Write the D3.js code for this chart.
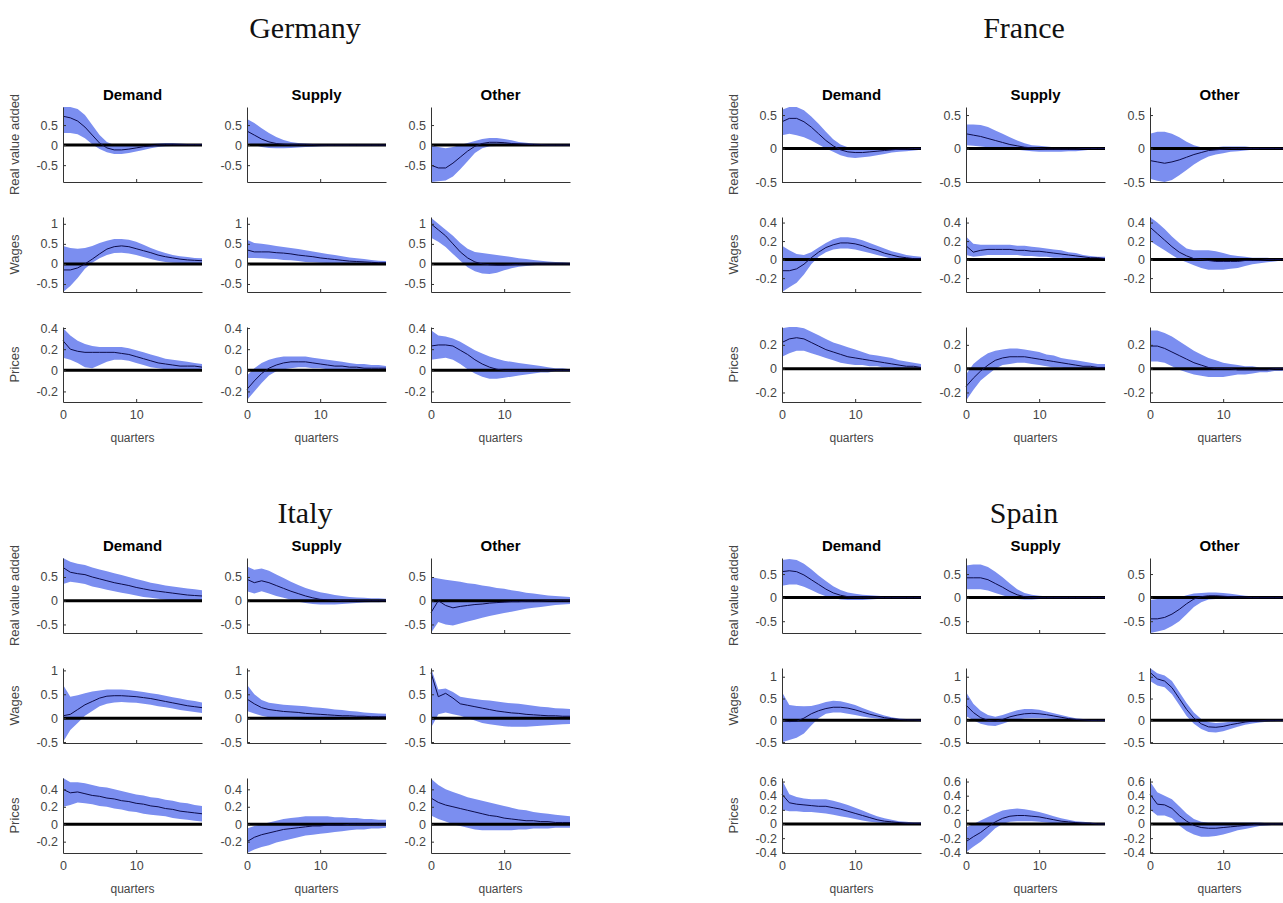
<!DOCTYPE html>
<html>
<head>
<meta charset="utf-8">
<script src="https://cdn.jsdelivr.net/npm/d3@7"></script>
<style>
  body { margin: 0; background: #fff; }
  svg { display: block; }
  .tick text { font-family: "Liberation Sans", Arial, Helvetica, sans-serif; font-size: 12.5px; fill: #454545; }
  .domain, .tick line { stroke: #333; }
</style>
</head>
<body>
<div id="chart"></div>
<script>
// Layout of the page
const W = 1283, H = 903;
const panelW = 139, panelH = 75;
const colStep = 184, rowStep = 110;

// Categories
const countries = ["Germany", "France", "Italy", "Spain"];
const shocks = ["Demand", "Supply", "Other"];
const variables = ["Real value added", "Wages", "Prices"];
const quarters = [0, 1, 2, 3, 4, 5, 6, 7, 8, 9, 10, 11, 12, 13, 14, 15, 16, 17, 18, 19];
const xTicks = [0, 10];

// Each country: 9 series, row = variable, col = shock
// order: RVA-Demand, RVA-Supply, RVA-Other, Wages-D, Wages-S, Wages-O, Prices-D, Prices-S, Prices-O

// ---------- Germany ----------
const germanyMid = [
  [0.72, 0.68, 0.6, 0.45, 0.25, 0.05, -0.07, -0.12, -0.12, -0.1, -0.07, -0.04, -0.02, 0, 0.01, 0.01, 0.01, 0.01, 0.01, 0.01],
  [0.35, 0.25, 0.15, 0.08, 0.04, 0.02, 0.01, 0.01, 0.01, 0.01, 0, 0, 0, 0, 0, 0, 0, 0, 0, 0],
  [-0.5, -0.57, -0.57, -0.45, -0.3, -0.15, -0.03, 0.04, 0.07, 0.07, 0.06, 0.04, 0.03, 0.02, 0.01, 0.01, 0, 0, 0, 0],
  [-0.15, -0.15, -0.1, 0, 0.12, 0.25, 0.37, 0.43, 0.45, 0.43, 0.38, 0.33, 0.28, 0.22, 0.18, 0.15, 0.12, 0.1, 0.09, 0.08],
  [0.35, 0.3, 0.3, 0.3, 0.28, 0.27, 0.25, 0.22, 0.2, 0.18, 0.15, 0.13, 0.11, 0.09, 0.07, 0.06, 0.05, 0.04, 0.03, 0.03],
  [1.0, 0.85, 0.7, 0.5, 0.3, 0.15, 0.05, 0, -0.02, -0.03, -0.03, -0.02, -0.01, 0, 0, 0, 0, 0, 0, 0],
  [0.28, 0.2, 0.18, 0.17, 0.17, 0.17, 0.17, 0.17, 0.16, 0.15, 0.13, 0.11, 0.09, 0.07, 0.06, 0.05, 0.04, 0.04, 0.04, 0.03],
  [-0.18, -0.1, -0.03, 0.02, 0.05, 0.07, 0.08, 0.08, 0.08, 0.07, 0.06, 0.05, 0.04, 0.04, 0.03, 0.03, 0.02, 0.02, 0.02, 0.02],
  [0.23, 0.24, 0.24, 0.23, 0.19, 0.15, 0.1, 0.06, 0.03, 0.01, 0, 0, 0, 0, 0, 0, 0, 0, 0, 0]
];
const germanyLo = [
  [0.3, 0.3, 0.27, 0.17, 0.02, -0.1, -0.18, -0.22, -0.22, -0.2, -0.16, -0.12, -0.08, -0.05, -0.03, -0.02, -0.02, -0.01, -0.01, -0.01],
  [0.05, 0, -0.05, -0.07, -0.08, -0.08, -0.07, -0.06, -0.05, -0.04, -0.03, -0.02, -0.02, -0.01, -0.01, -0.01, 0, 0, 0, 0],
  [-0.92, -0.9, -0.88, -0.78, -0.6, -0.4, -0.2, -0.08, -0.03, -0.02, -0.02, -0.02, -0.02, -0.02, -0.01, -0.01, -0.01, -0.01, -0.01, -0.01],
  [-0.7, -0.55, -0.35, -0.12, 0.03, 0.14, 0.22, 0.27, 0.28, 0.26, 0.22, 0.17, 0.12, 0.08, 0.05, 0.03, 0.02, 0.02, 0.02, 0.02],
  [0.15, 0.15, 0.14, 0.13, 0.12, 0.1, 0.09, 0.07, 0.05, 0.04, 0.03, 0.02, 0.01, 0, 0, 0, 0, 0, 0, 0],
  [0.65, 0.55, 0.42, 0.25, 0.08, -0.08, -0.18, -0.24, -0.25, -0.22, -0.16, -0.11, -0.07, -0.05, -0.03, -0.02, -0.02, -0.01, -0.01, -0.01],
  [0.12, 0.1, 0.07, 0.03, 0.02, 0.05, 0.08, 0.1, 0.1, 0.09, 0.07, 0.05, 0.03, 0.02, 0.01, 0, 0, 0, 0, 0],
  [-0.28, -0.2, -0.12, -0.05, -0.01, 0.01, 0.02, 0.03, 0.03, 0.02, 0.02, 0.01, 0.01, 0, 0, 0, 0, 0, 0, 0],
  [0.1, 0.11, 0.12, 0.1, 0.06, 0.01, -0.03, -0.06, -0.08, -0.08, -0.07, -0.06, -0.05, -0.04, -0.03, -0.02, -0.02, -0.01, -0.01, -0.01]
];
const germanyHi = [
  [0.95, 0.95, 0.9, 0.75, 0.5, 0.25, 0.08, 0, -0.02, -0.01, 0.01, 0.02, 0.03, 0.04, 0.05, 0.05, 0.04, 0.03, 0.02, 0.02],
  [0.65, 0.55, 0.42, 0.3, 0.2, 0.13, 0.08, 0.05, 0.04, 0.03, 0.03, 0.02, 0.02, 0.02, 0.01, 0.01, 0.01, 0.01, 0.01, 0.01],
  [0, -0.05, -0.08, -0.05, 0, 0.05, 0.1, 0.15, 0.18, 0.18, 0.15, 0.12, 0.08, 0.06, 0.04, 0.03, 0.02, 0.02, 0.01, 0.01],
  [0.45, 0.4, 0.38, 0.4, 0.45, 0.52, 0.58, 0.62, 0.62, 0.6, 0.55, 0.48, 0.4, 0.33, 0.27, 0.22, 0.19, 0.17, 0.15, 0.14],
  [0.6, 0.52, 0.5, 0.48, 0.45, 0.42, 0.4, 0.37, 0.34, 0.31, 0.28, 0.25, 0.22, 0.19, 0.16, 0.14, 0.12, 0.1, 0.08, 0.07],
  [1.15, 1.0, 0.85, 0.7, 0.52, 0.38, 0.3, 0.27, 0.25, 0.22, 0.2, 0.17, 0.14, 0.12, 0.1, 0.08, 0.06, 0.05, 0.04, 0.03],
  [0.4, 0.33, 0.28, 0.25, 0.23, 0.22, 0.22, 0.22, 0.22, 0.21, 0.19, 0.17, 0.15, 0.13, 0.11, 0.1, 0.09, 0.08, 0.07, 0.06],
  [-0.05, 0.02, 0.07, 0.1, 0.12, 0.13, 0.13, 0.13, 0.13, 0.12, 0.11, 0.1, 0.09, 0.08, 0.07, 0.06, 0.06, 0.05, 0.05, 0.04],
  [0.38, 0.33, 0.32, 0.3, 0.27, 0.23, 0.19, 0.16, 0.13, 0.11, 0.09, 0.08, 0.07, 0.06, 0.05, 0.04, 0.03, 0.02, 0.02, 0.01]
];
const germanyYLim = [[-0.92, 0.95], [-0.7, 1.17], [-0.3, 0.41]];
const germanyTicks = [[-0.5, 0, 0.5], [-0.5, 0, 0.5, 1], [-0.2, 0, 0.2, 0.4]];

// ---------- France ----------
const franceMid = [
  [0.4, 0.45, 0.45, 0.4, 0.32, 0.22, 0.12, 0.04, -0.02, -0.05, -0.06, -0.06, -0.05, -0.04, -0.03, -0.02, -0.01, -0.01, 0, 0],
  [0.22, 0.2, 0.18, 0.15, 0.12, 0.09, 0.06, 0.04, 0.02, 0.01, 0, -0.01, -0.01, -0.01, -0.01, -0.01, 0, 0, 0, 0],
  [-0.18, -0.2, -0.22, -0.2, -0.17, -0.13, -0.09, -0.06, -0.03, -0.02, -0.01, 0, 0, 0, 0, 0, 0, 0, 0, 0],
  [-0.12, -0.12, -0.1, -0.05, 0.02, 0.08, 0.13, 0.16, 0.18, 0.18, 0.17, 0.15, 0.12, 0.1, 0.07, 0.05, 0.03, 0.02, 0.01, 0.01],
  [0.15, 0.08, 0.1, 0.11, 0.11, 0.11, 0.11, 0.1, 0.1, 0.09, 0.09, 0.08, 0.07, 0.06, 0.05, 0.04, 0.03, 0.02, 0.02, 0.01],
  [0.35, 0.28, 0.21, 0.14, 0.08, 0.04, 0.01, 0, -0.01, -0.02, -0.02, -0.02, -0.02, -0.01, -0.01, -0.01, 0, 0, 0, 0],
  [0.22, 0.25, 0.26, 0.25, 0.22, 0.19, 0.16, 0.14, 0.12, 0.1, 0.09, 0.08, 0.07, 0.06, 0.05, 0.04, 0.03, 0.02, 0.02, 0.01],
  [-0.15, -0.08, -0.02, 0.03, 0.07, 0.09, 0.1, 0.1, 0.1, 0.09, 0.08, 0.07, 0.06, 0.05, 0.04, 0.03, 0.02, 0.02, 0.01, 0.01],
  [0.19, 0.19, 0.17, 0.14, 0.11, 0.08, 0.05, 0.03, 0.01, 0, 0, 0, -0.01, -0.01, -0.01, -0.01, -0.01, 0, 0, 0]
];
const franceLo = [
  [0.2, 0.22, 0.2, 0.17, 0.12, 0.06, 0, -0.05, -0.1, -0.13, -0.14, -0.13, -0.12, -0.1, -0.08, -0.06, -0.05, -0.04, -0.03, -0.02],
  [0.05, 0.04, 0.03, 0.02, 0.01, 0, -0.01, -0.02, -0.03, -0.04, -0.05, -0.05, -0.05, -0.05, -0.04, -0.04, -0.03, -0.02, -0.02, -0.01],
  [-0.45, -0.48, -0.5, -0.47, -0.4, -0.32, -0.24, -0.17, -0.12, -0.09, -0.07, -0.05, -0.04, -0.03, -0.02, -0.02, -0.01, -0.01, -0.01, -0.01],
  [-0.35, -0.3, -0.25, -0.16, -0.05, 0.03, 0.08, 0.11, 0.12, 0.12, 0.11, 0.09, 0.07, 0.05, 0.03, 0.01, 0, 0, 0, 0],
  [0.05, 0.03, 0.04, 0.05, 0.05, 0.05, 0.05, 0.05, 0.04, 0.04, 0.03, 0.03, 0.02, 0.02, 0.01, 0.01, 0, 0, 0, 0],
  [0.2, 0.15, 0.1, 0.05, 0, -0.03, -0.06, -0.09, -0.11, -0.11, -0.11, -0.1, -0.09, -0.07, -0.05, -0.04, -0.03, -0.02, -0.01, -0.01],
  [0.1, 0.13, 0.15, 0.15, 0.13, 0.11, 0.09, 0.07, 0.05, 0.04, 0.03, 0.03, 0.02, 0.02, 0.01, 0.01, 0, 0, 0, 0],
  [-0.27, -0.18, -0.1, -0.05, 0, 0.03, 0.04, 0.05, 0.05, 0.04, 0.03, 0.02, 0.01, 0.01, 0, 0, 0, 0, 0, 0],
  [0.06, 0.06, 0.05, 0.02, -0.01, -0.03, -0.05, -0.06, -0.07, -0.07, -0.07, -0.06, -0.05, -0.05, -0.04, -0.03, -0.03, -0.02, -0.02, -0.01]
];
const franceHi = [
  [0.58, 0.62, 0.62, 0.57, 0.48, 0.37, 0.25, 0.14, 0.06, 0.02, 0, 0, 0, 0.01, 0.01, 0.01, 0.01, 0.01, 0.01, 0.01],
  [0.36, 0.36, 0.35, 0.32, 0.27, 0.22, 0.17, 0.12, 0.08, 0.05, 0.04, 0.03, 0.02, 0.02, 0.02, 0.01, 0.01, 0.01, 0.01, 0.01],
  [0.22, 0.25, 0.25, 0.22, 0.17, 0.1, 0.05, 0.02, 0.01, 0.02, 0.03, 0.03, 0.03, 0.03, 0.02, 0.02, 0.02, 0.01, 0.01, 0.01],
  [0.15, 0.1, 0.06, 0.05, 0.08, 0.13, 0.18, 0.22, 0.24, 0.24, 0.23, 0.21, 0.18, 0.15, 0.12, 0.09, 0.07, 0.05, 0.04, 0.03],
  [0.25, 0.17, 0.16, 0.16, 0.16, 0.16, 0.16, 0.15, 0.15, 0.14, 0.13, 0.12, 0.11, 0.1, 0.08, 0.07, 0.05, 0.04, 0.03, 0.03],
  [0.46, 0.4, 0.33, 0.25, 0.18, 0.12, 0.1, 0.1, 0.1, 0.09, 0.07, 0.05, 0.04, 0.03, 0.02, 0.02, 0.02, 0.01, 0.01, 0.01],
  [0.34, 0.35, 0.35, 0.34, 0.31, 0.28, 0.25, 0.22, 0.2, 0.18, 0.16, 0.14, 0.12, 0.11, 0.1, 0.09, 0.07, 0.06, 0.05, 0.04],
  [-0.05, 0.04, 0.09, 0.13, 0.15, 0.16, 0.17, 0.17, 0.16, 0.15, 0.14, 0.12, 0.11, 0.09, 0.08, 0.07, 0.06, 0.05, 0.04, 0.04],
  [0.32, 0.32, 0.3, 0.27, 0.23, 0.19, 0.15, 0.12, 0.09, 0.07, 0.05, 0.04, 0.03, 0.02, 0.02, 0.01, 0.01, 0.01, 0.01, 0.01]
];
const franceYLim = [[-0.5, 0.62], [-0.35, 0.46], [-0.28, 0.35]];
const franceTicks = [[-0.5, 0, 0.5], [-0.2, 0, 0.2, 0.4], [-0.2, 0, 0.2]];

// ---------- Italy ----------
const italyMid = [
  [0.7, 0.6, 0.57, 0.55, 0.5, 0.46, 0.42, 0.38, 0.35, 0.32, 0.28, 0.25, 0.22, 0.2, 0.18, 0.16, 0.14, 0.12, 0.11, 0.1],
  [0.45, 0.38, 0.42, 0.38, 0.32, 0.26, 0.2, 0.15, 0.1, 0.06, 0.03, 0.02, 0.01, 0, 0, 0, 0, 0, 0, 0],
  [-0.25, 0, -0.1, -0.15, -0.12, -0.1, -0.08, -0.07, -0.05, -0.04, -0.03, -0.02, -0.02, -0.01, -0.01, -0.01, 0, 0, 0, 0],
  [0.05, 0.08, 0.18, 0.28, 0.35, 0.42, 0.46, 0.47, 0.47, 0.46, 0.45, 0.43, 0.41, 0.38, 0.35, 0.32, 0.29, 0.26, 0.24, 0.22],
  [0.4, 0.3, 0.22, 0.18, 0.16, 0.14, 0.13, 0.12, 0.1, 0.09, 0.08, 0.07, 0.06, 0.05, 0.05, 0.04, 0.04, 0.03, 0.03, 0.03],
  [0.95, 0.45, 0.52, 0.42, 0.3, 0.27, 0.24, 0.21, 0.18, 0.15, 0.13, 0.11, 0.1, 0.08, 0.07, 0.06, 0.05, 0.05, 0.04, 0.04],
  [0.4, 0.36, 0.37, 0.35, 0.33, 0.32, 0.3, 0.29, 0.27, 0.26, 0.24, 0.23, 0.21, 0.2, 0.18, 0.17, 0.15, 0.14, 0.13, 0.12],
  [-0.2, -0.15, -0.12, -0.1, -0.08, -0.06, -0.05, -0.04, -0.03, -0.02, -0.02, -0.01, -0.01, -0.01, 0, 0, 0, 0, 0, 0],
  [0.3, 0.25, 0.22, 0.2, 0.18, 0.16, 0.14, 0.12, 0.1, 0.09, 0.07, 0.06, 0.05, 0.04, 0.04, 0.03, 0.03, 0.02, 0.02, 0.02]
];
const italyLo = [
  [0.35, 0.4, 0.38, 0.35, 0.3, 0.27, 0.23, 0.2, 0.17, 0.14, 0.11, 0.08, 0.06, 0.04, 0.02, 0.01, 0, 0, 0, 0],
  [0.2, 0.15, 0.2, 0.15, 0.1, 0.06, 0.02, -0.02, -0.05, -0.07, -0.08, -0.08, -0.08, -0.07, -0.06, -0.05, -0.04, -0.03, -0.03, -0.02],
  [-0.68, -0.45, -0.5, -0.52, -0.48, -0.44, -0.4, -0.36, -0.32, -0.29, -0.26, -0.23, -0.2, -0.17, -0.15, -0.13, -0.11, -0.09, -0.08, -0.07],
  [-0.5, -0.25, -0.1, 0.05, 0.15, 0.25, 0.3, 0.33, 0.34, 0.33, 0.32, 0.3, 0.28, 0.25, 0.23, 0.2, 0.17, 0.15, 0.13, 0.11],
  [0.15, 0.1, 0.05, 0.02, 0, -0.01, -0.02, -0.03, -0.04, -0.04, -0.04, -0.04, -0.04, -0.03, -0.03, -0.03, -0.02, -0.02, -0.02, -0.02],
  [-0.2, 0.08, 0.12, 0.08, 0.05, 0, -0.05, -0.1, -0.13, -0.15, -0.17, -0.18, -0.18, -0.18, -0.17, -0.16, -0.15, -0.14, -0.13, -0.12],
  [0.2, 0.22, 0.25, 0.24, 0.23, 0.21, 0.2, 0.18, 0.17, 0.15, 0.14, 0.12, 0.11, 0.1, 0.09, 0.07, 0.06, 0.05, 0.04, 0.03],
  [-0.33, -0.29, -0.26, -0.24, -0.21, -0.19, -0.17, -0.15, -0.13, -0.12, -0.11, -0.1, -0.09, -0.08, -0.07, -0.06, -0.06, -0.05, -0.05, -0.04],
  [0.1, 0.06, 0.03, 0, -0.02, -0.04, -0.06, -0.07, -0.07, -0.07, -0.07, -0.07, -0.06, -0.06, -0.05, -0.05, -0.05, -0.04, -0.04, -0.04]
];
const italyHi = [
  [0.9, 0.82, 0.78, 0.75, 0.7, 0.66, 0.62, 0.58, 0.54, 0.5, 0.46, 0.42, 0.38, 0.35, 0.32, 0.3, 0.28, 0.26, 0.24, 0.22],
  [0.72, 0.65, 0.68, 0.63, 0.55, 0.48, 0.4, 0.33, 0.27, 0.22, 0.18, 0.15, 0.12, 0.1, 0.08, 0.07, 0.06, 0.05, 0.05, 0.04],
  [0.5, 0.47, 0.44, 0.42, 0.4, 0.37, 0.35, 0.32, 0.3, 0.27, 0.25, 0.22, 0.2, 0.17, 0.15, 0.13, 0.11, 0.1, 0.09, 0.08],
  [0.7, 0.45, 0.48, 0.52, 0.56, 0.58, 0.6, 0.6, 0.6, 0.59, 0.57, 0.55, 0.52, 0.5, 0.47, 0.44, 0.41, 0.38, 0.36, 0.33],
  [0.7, 0.5, 0.38, 0.32, 0.3, 0.28, 0.27, 0.26, 0.25, 0.23, 0.22, 0.2, 0.18, 0.17, 0.15, 0.14, 0.12, 0.11, 0.1, 0.09],
  [1.05, 0.6, 0.62, 0.55, 0.45, 0.42, 0.4, 0.38, 0.37, 0.35, 0.33, 0.31, 0.3, 0.28, 0.26, 0.24, 0.23, 0.21, 0.2, 0.19],
  [0.53, 0.48, 0.48, 0.47, 0.45, 0.43, 0.42, 0.4, 0.38, 0.36, 0.34, 0.33, 0.31, 0.3, 0.28, 0.27, 0.25, 0.24, 0.22, 0.21],
  [-0.05, -0.02, 0, 0.02, 0.04, 0.06, 0.07, 0.08, 0.09, 0.09, 0.09, 0.09, 0.08, 0.08, 0.07, 0.07, 0.06, 0.06, 0.05, 0.05],
  [0.52, 0.45, 0.4, 0.37, 0.34, 0.31, 0.29, 0.27, 0.25, 0.23, 0.21, 0.19, 0.17, 0.16, 0.14, 0.13, 0.12, 0.11, 0.1, 0.09]
];
const italyYLim = [[-0.68, 0.9], [-0.52, 1.05], [-0.33, 0.53]];
const italyTicks = [[-0.5, 0, 0.5], [-0.5, 0, 0.5, 1], [-0.2, 0, 0.2, 0.4]];

// ---------- Spain ----------
const spainMid = [
  [0.55, 0.57, 0.55, 0.48, 0.38, 0.28, 0.18, 0.1, 0.05, 0.02, 0.01, 0.01, 0.01, 0.01, 0, 0, 0, 0, 0, 0],
  [0.42, 0.42, 0.42, 0.38, 0.3, 0.22, 0.13, 0.06, 0.02, 0, 0, 0, 0, 0, 0, 0, 0, 0, 0, 0],
  [-0.45, -0.45, -0.42, -0.35, -0.25, -0.13, -0.03, 0.02, 0.04, 0.04, 0.03, 0.02, 0.01, 0.01, 0, 0, 0, 0, 0, 0],
  [0, -0.03, -0.02, 0.05, 0.15, 0.22, 0.27, 0.3, 0.3, 0.28, 0.24, 0.19, 0.14, 0.1, 0.06, 0.04, 0.02, 0.01, 0.01, 0],
  [0.35, 0.18, 0.06, 0, -0.02, 0.02, 0.08, 0.12, 0.15, 0.16, 0.15, 0.13, 0.1, 0.07, 0.04, 0.02, 0.01, 0, 0, 0],
  [1.1, 0.95, 0.9, 0.75, 0.5, 0.25, 0.05, -0.08, -0.15, -0.16, -0.14, -0.1, -0.07, -0.04, -0.02, -0.01, 0, 0, 0, 0],
  [0.42, 0.3, 0.28, 0.27, 0.26, 0.25, 0.25, 0.23, 0.21, 0.18, 0.15, 0.12, 0.09, 0.06, 0.04, 0.03, 0.02, 0.01, 0.01, 0.01],
  [-0.25, -0.18, -0.12, -0.04, 0.03, 0.08, 0.11, 0.12, 0.12, 0.11, 0.1, 0.08, 0.06, 0.04, 0.03, 0.02, 0.01, 0.01, 0, 0],
  [0.42, 0.28, 0.27, 0.22, 0.12, 0.04, -0.02, -0.05, -0.06, -0.06, -0.05, -0.04, -0.03, -0.02, -0.01, 0, 0, 0, 0, 0]
];
const spainLo = [
  [0.25, 0.28, 0.28, 0.23, 0.16, 0.09, 0.03, -0.01, -0.04, -0.05, -0.05, -0.05, -0.04, -0.03, -0.02, -0.02, -0.01, -0.01, 0, 0],
  [0.18, 0.18, 0.18, 0.15, 0.1, 0.05, 0, -0.03, -0.04, -0.04, -0.03, -0.03, -0.02, -0.02, -0.01, -0.01, -0.01, 0, 0, 0],
  [-0.75, -0.72, -0.68, -0.6, -0.5, -0.35, -0.2, -0.1, -0.04, -0.03, -0.03, -0.03, -0.03, -0.02, -0.02, -0.02, -0.02, -0.01, -0.01, -0.01],
  [-0.5, -0.45, -0.4, -0.3, -0.12, 0.05, 0.15, 0.18, 0.18, 0.15, 0.12, 0.09, 0.06, 0.04, 0.02, 0.01, 0, 0, 0, 0],
  [0.1, 0, -0.08, -0.12, -0.13, -0.08, -0.02, 0.02, 0.04, 0.05, 0.05, 0.04, 0.03, 0.02, 0.01, 0, 0, 0, 0, 0],
  [0.9, 0.8, 0.76, 0.6, 0.35, 0.1, -0.08, -0.2, -0.27, -0.28, -0.25, -0.2, -0.15, -0.1, -0.07, -0.05, -0.03, -0.02, -0.01, -0.01],
  [0.2, 0.18, 0.18, 0.17, 0.17, 0.16, 0.15, 0.13, 0.11, 0.09, 0.07, 0.05, 0.03, 0.02, 0.01, 0, 0, 0, 0, 0],
  [-0.4, -0.32, -0.25, -0.16, -0.06, 0, 0.03, 0.04, 0.04, 0.04, 0.03, 0.02, 0.01, 0, 0, 0, 0, 0, 0, 0],
  [0.2, 0.12, 0.12, 0.08, -0.02, -0.1, -0.15, -0.18, -0.18, -0.17, -0.15, -0.12, -0.09, -0.07, -0.05, -0.03, -0.02, -0.01, -0.01, -0.01]
];
const spainHi = [
  [0.8, 0.82, 0.8, 0.72, 0.6, 0.47, 0.35, 0.24, 0.16, 0.11, 0.08, 0.06, 0.05, 0.04, 0.03, 0.02, 0.02, 0.01, 0.01, 0.01],
  [0.68, 0.7, 0.7, 0.65, 0.55, 0.43, 0.3, 0.18, 0.1, 0.06, 0.04, 0.03, 0.02, 0.02, 0.01, 0.01, 0.01, 0.01, 0.01, 0.01],
  [-0.05, -0.03, -0.02, -0.01, 0, 0.05, 0.09, 0.1, 0.11, 0.11, 0.1, 0.08, 0.06, 0.04, 0.03, 0.02, 0.02, 0.01, 0.01, 0.01],
  [0.65, 0.35, 0.33, 0.32, 0.33, 0.37, 0.42, 0.45, 0.44, 0.4, 0.35, 0.28, 0.22, 0.16, 0.11, 0.07, 0.04, 0.03, 0.02, 0.02],
  [0.65, 0.38, 0.22, 0.12, 0.08, 0.12, 0.18, 0.23, 0.26, 0.26, 0.24, 0.2, 0.16, 0.12, 0.08, 0.05, 0.03, 0.02, 0.01, 0.01],
  [1.2, 1.08, 1.03, 0.9, 0.65, 0.4, 0.18, 0.03, -0.04, -0.06, -0.05, -0.03, -0.01, 0, 0.01, 0.01, 0.01, 0.01, 0.01, 0.01],
  [0.62, 0.42, 0.38, 0.36, 0.35, 0.35, 0.35, 0.33, 0.3, 0.27, 0.23, 0.19, 0.15, 0.11, 0.08, 0.06, 0.04, 0.03, 0.02, 0.02],
  [-0.05, 0, 0.05, 0.1, 0.15, 0.19, 0.21, 0.22, 0.21, 0.19, 0.17, 0.14, 0.11, 0.08, 0.06, 0.04, 0.03, 0.02, 0.01, 0.01],
  [0.6, 0.45, 0.4, 0.35, 0.25, 0.15, 0.07, 0.03, 0.02, 0.02, 0.02, 0.02, 0.02, 0.02, 0.02, 0.02, 0.01, 0.01, 0.01, 0.01]
];
const spainYLim = [[-0.75, 0.84], [-0.52, 1.2], [-0.41, 0.65]];
const spainTicks = [[-0.5, 0, 0.5], [-0.5, 0, 0.5, 1], [-0.4, -0.2, 0, 0.2, 0.4, 0.6]];

const countryData = [
  {mid: germanyMid, lo: germanyLo, hi: germanyHi, ylim: germanyYLim, ticks: germanyTicks},
  {mid: franceMid, lo: franceLo, hi: franceHi, ylim: franceYLim, ticks: franceTicks},
  {mid: italyMid, lo: italyLo, hi: italyHi, ylim: italyYLim, ticks: italyTicks},
  {mid: spainMid, lo: spainLo, hi: spainHi, ylim: spainYLim, ticks: spainTicks}
];

// block placement (left/right, top/bottom) and where the country title sits
const blockX = [0, 719, 0, 719];
const blockY = [0, 0, 451, 451];
const titleY = [27, 27, 512, 512];

const svg = d3.select("#chart").append("svg")
  .attr("width", W)
  .attr("height", H);

const sans = "'Liberation Sans', Arial, Helvetica, sans-serif";

const x = d3.scaleLinear().domain([0, 19]).range([0, panelW]);

countries.forEach((country, ci) => {
  const cd = countryData[ci];
  const bx = blockX[ci], by = blockY[ci];

  // country title
  svg.append("text")
    .attr("x", bx + 305)
    .attr("y", titleY[ci])
    .attr("dy", "0.35em")
    .attr("text-anchor", "middle")
    .style("font-family", "'Liberation Serif', 'Times New Roman', serif")
    .style("font-size", "30px")
    .attr("fill", "#111")
    .text(country);

  variables.forEach((v, r) => {
    const y = d3.scaleLinear().domain(cd.ylim[r]).range([panelH, 0]);

    shocks.forEach((s, c) => {
      const k = r * 3 + c;
      const px = bx + 63 + c * colStep;
      const py = by + 107 + r * rowStep;
      const g = svg.append("g").attr("transform", `translate(${px},${py})`);

      const rows = quarters.map((q, i) => ({q: q, mid: cd.mid[k][i], lo: cd.lo[k][i], hi: cd.hi[k][i]}));

      // confidence band
      g.append("path")
        .datum(rows)
        .attr("fill", "#7b8ef0")
        .attr("d", d3.area()
          .x(d => x(d.q))
          .y0(d => y(d.lo))
          .y1(d => y(d.hi)));

      // zero line
      g.append("path")
        .datum([0, 19])
        .attr("fill", "none")
        .attr("stroke", "#000")
        .attr("stroke-width", 3)
        .attr("d", d3.line().x(d => x(d)).y(() => y(0)));

      // median response
      g.append("path")
        .datum(rows)
        .attr("fill", "none")
        .attr("stroke", "#0c0c4a")
        .attr("stroke-width", 1)
        .attr("d", d3.line().x(d => x(d.q)).y(d => y(d.mid)));

      // axes (box off, ticks pointing in)
      g.append("g")
        .call(d3.axisLeft(y).tickValues(cd.ticks[r]).tickSizeInner(-3).tickSizeOuter(0)
          .tickPadding(5).tickFormat(d => String(d)));

      g.append("g")
        .attr("transform", `translate(0,${panelH})`)
        .call(d3.axisBottom(x).tickValues(xTicks).tickSizeInner(-3).tickSizeOuter(0)
          .tickPadding(8).tickFormat(d => r === 2 ? String(d) : ""));

      // column titles
      if (r === 0) {
        g.append("text")
          .attr("x", panelW / 2)
          .attr("y", -7)
          .attr("text-anchor", "middle")
          .style("font-family", sans)
          .style("font-size", "15px")
          .style("font-weight", "bold")
          .attr("fill", "#000")
          .text(s);
      }
      // x label
      if (r === 2) {
        g.append("text")
          .attr("x", panelW / 2)
          .attr("y", panelH + 40)
          .attr("text-anchor", "middle")
          .style("font-family", sans)
          .style("font-size", "12px")
          .attr("fill", "#454545")
          .text("quarters");
      }
      // y label
      if (c === 0) {
        g.append("text")
          .attr("transform", `translate(-44,${panelH / 2}) rotate(-90)`)
          .attr("text-anchor", "middle")
          .style("font-family", sans)
          .style("font-size", "13px")
          .attr("fill", "#454545")
          .text(v);
      }
    });
  });
});
</script>
</body>
</html>
